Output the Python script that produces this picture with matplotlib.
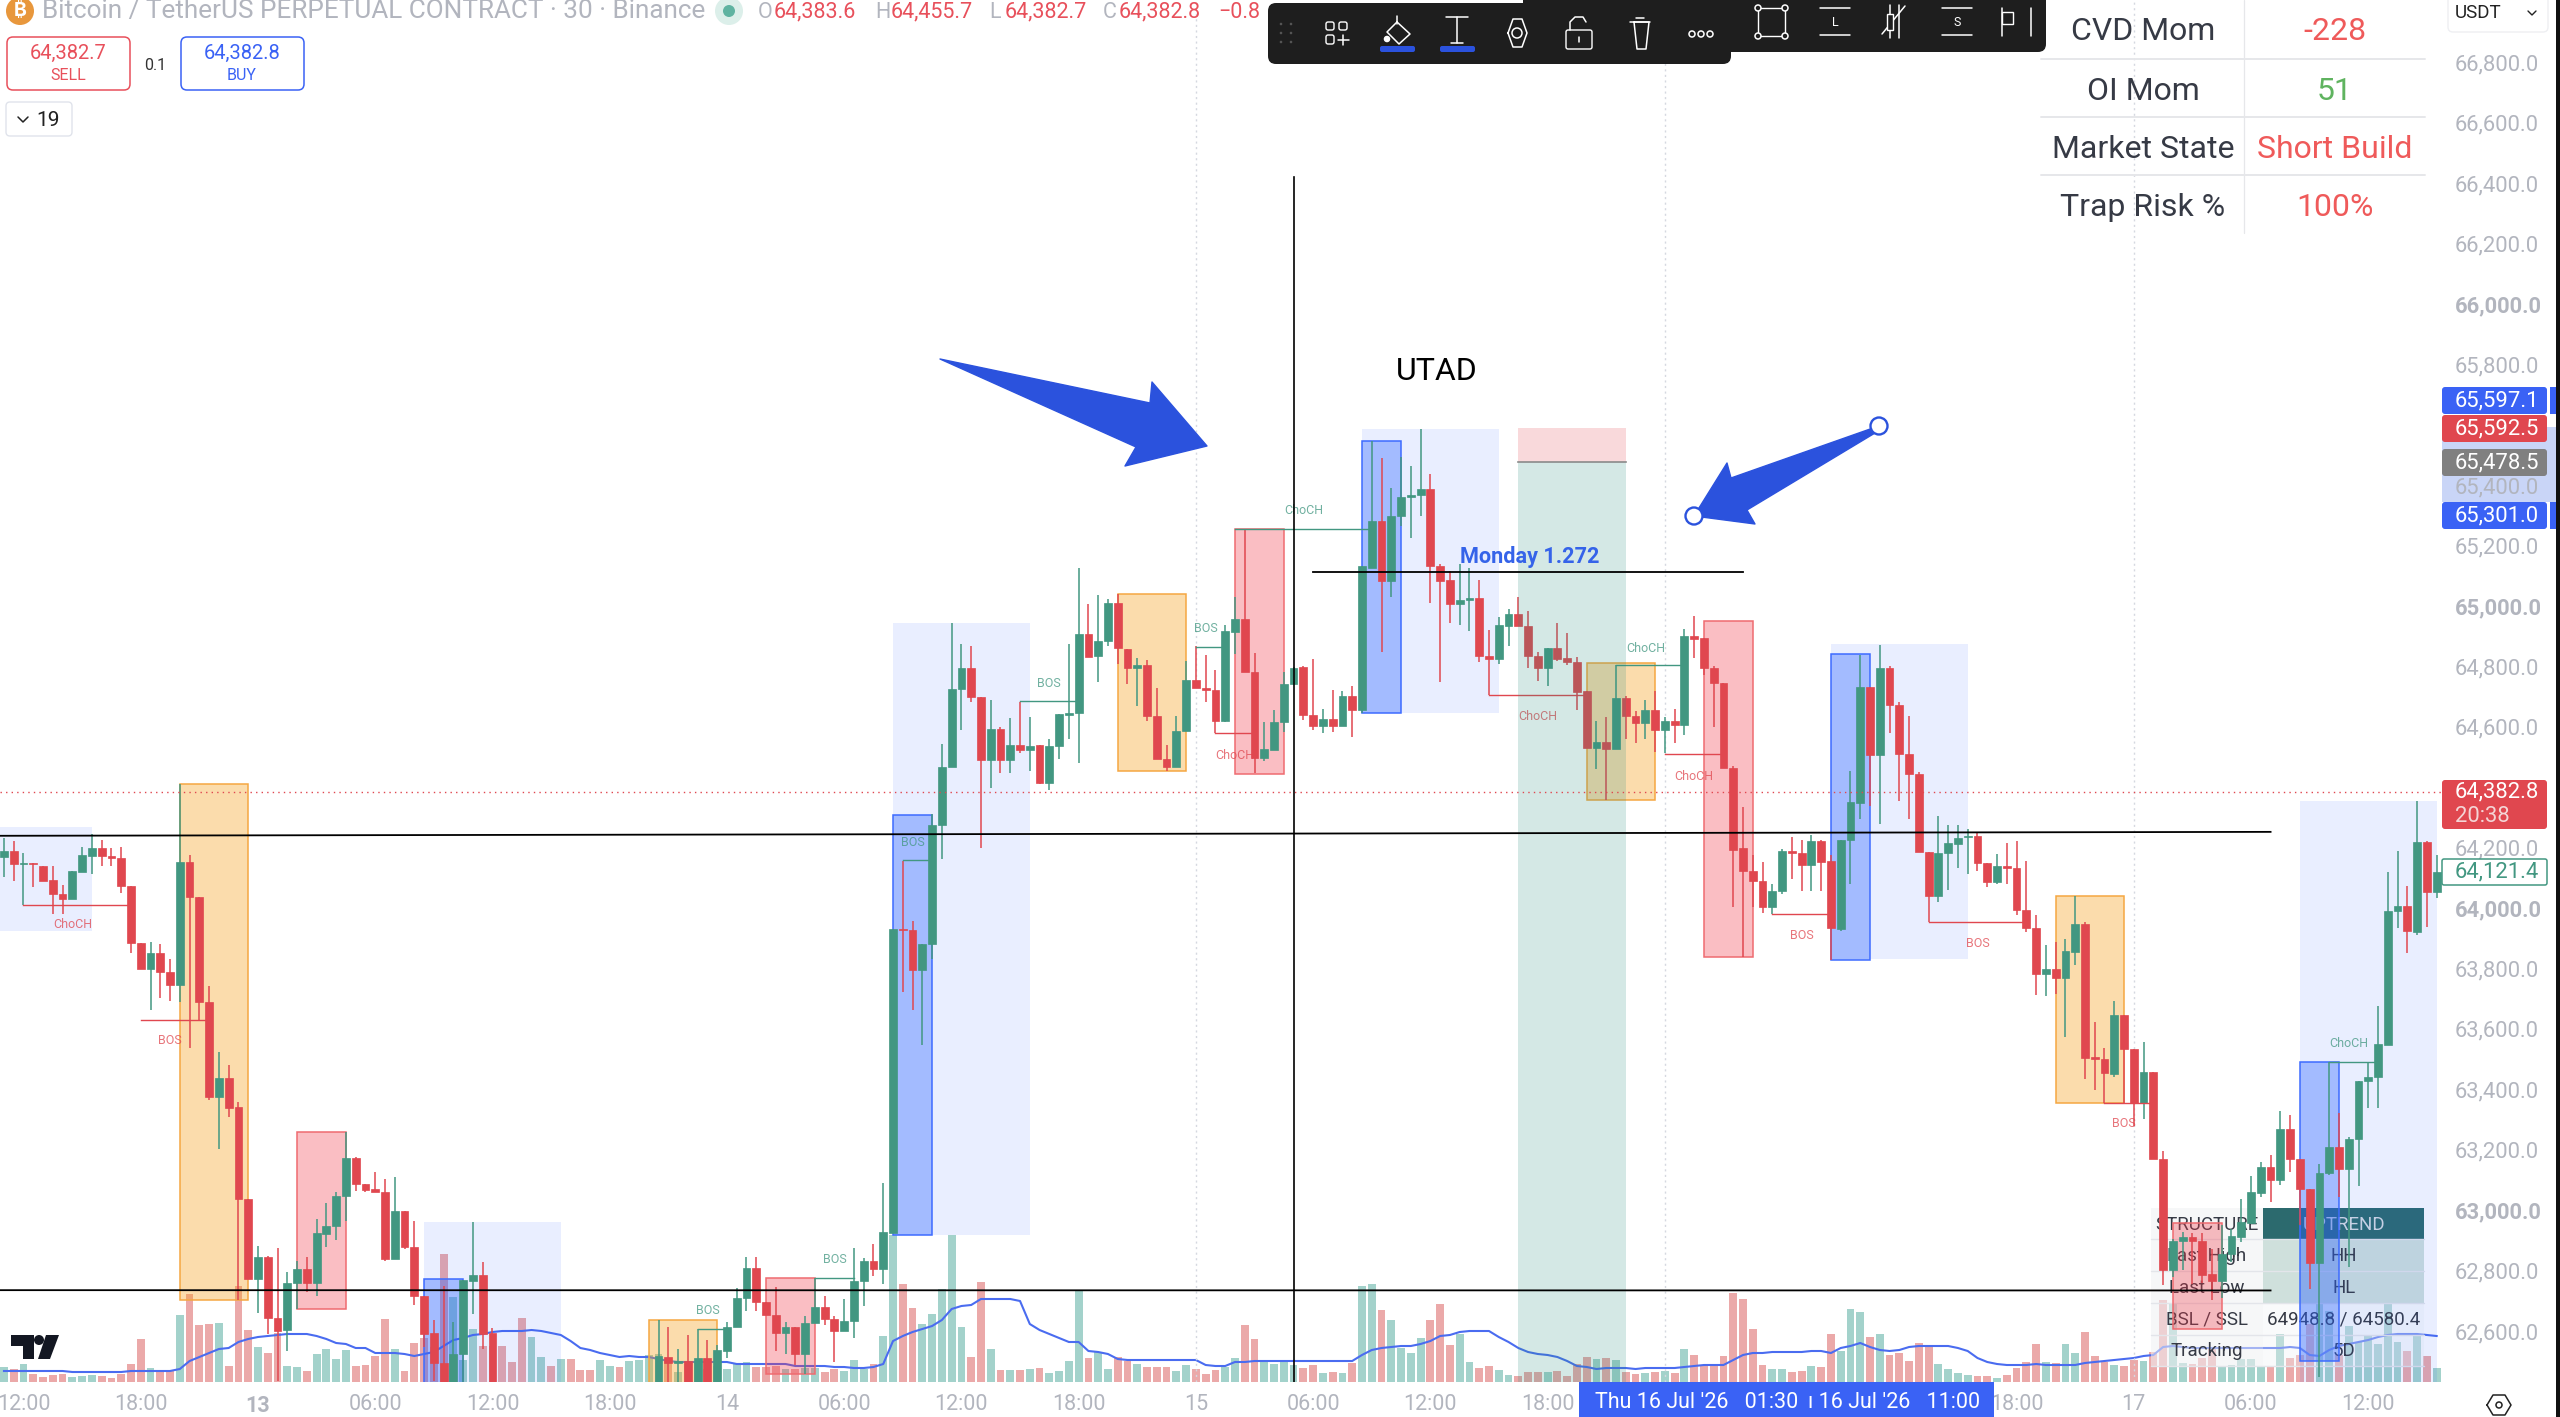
import numpy as np
import matplotlib
matplotlib.use("Agg")
import matplotlib.pyplot as plt
from matplotlib.patches import Rectangle, Circle, Polygon, FancyBboxPatch
from matplotlib.transforms import Affine2D
from matplotlib.colors import to_rgba

plt.rcParams["font.family"] = ["Roboto", "DejaVu Sans"]

# 30 min candles, first one is two bars before 12:00 on the 12th
first_bar = -2
opens = [
    64168, 64189, 64147, 64150, 64140, 64092, 64046, 64030, 64120, 64172,
    64197, 64172, 64165, 64073, 63885, 63798, 63851, 63787, 63745, 64153,
    64038, 63688, 63376, 63436, 63342, 63036, 62773, 62846, 62644, 62602,
    62758, 62806, 62759, 62921, 62949, 63046, 63172, 63086, 63071, 63061,
    62839, 62998, 62878, 62716, 62593, 62495, 62420, 62523, 62766, 62785,
    62593, 62400, 62340, 62300, 62280, 62310, 62330, 62290, 62320, 62300,
    62280, 62270, 62310, 62340, 62320, 62370, 62400, 62432, 62515, 62493,
    62501, 62432, 62512, 62432, 62534, 62614, 62708, 62810, 62697, 62654,
    62593, 62612, 62525, 62627, 62678, 62640, 62599, 62634, 62764, 62830,
    62806, 62923, 63932, 63926, 63796, 63882, 64274, 64466, 64724, 64794,
    64698, 64489, 64594, 64489, 64541, 64524, 64539, 64413, 64535, 64640,
    64646, 64907, 64833, 64883, 65011, 64857, 64794, 64805, 64637, 64494,
    64468, 64587, 64755, 64727, 64721, 64619, 64914, 64958, 64781, 64497,
    64524, 64616, 64741, 64797, 64640, 64602, 64627, 64603, 64701, 64655,
    65127, 65281, 65083, 65298, 65359, 65367, 65386, 65133, 65085, 65005,
    65018, 65027, 64834, 64825, 64935, 64974, 64934, 64834, 64793, 64860,
    64826, 64815, 64717, 64529, 64551, 64526, 64694, 64635, 64611, 64657,
    64588, 64619, 64606, 64902, 64894, 64793, 64746, 64464, 64197, 64123,
    64091, 64002, 64057, 64190, 64183, 64141, 64223, 64154, 63929, 64224,
    64348, 64730, 64505, 64794, 64673, 64510, 64443, 64186, 64040, 64183,
    64212, 64235, 64238, 64148, 64085, 64138, 64131, 63993, 63934, 63783,
    63798, 63769, 63855, 63947, 63507, 63501, 63450, 63646, 63534, 63355,
    63457, 63170, 62801, 62898, 62912, 62898, 62787, 62765, 62855, 62911,
    62958, 63058, 63143, 63100, 63269, 63168, 63069, 62825, 63122, 63210,
    63136, 63234, 63427, 63441, 63548, 63990, 64007, 63921, 64217, 64053,
]
highs = [
    64233, 64222, 64182, 64150, 64140, 64139, 64077, 64122, 64203, 64245,
    64225, 64200, 64203, 64073, 63885, 63889, 63880, 63830, 64411, 64175,
    64038, 63741, 63522, 63480, 63358, 63036, 62880, 62849, 62874, 62795,
    62830, 62844, 62970, 63025, 63059, 63258, 63175, 63086, 63125, 63103,
    63110, 62998, 62964, 62717, 62636, 62748, 62629, 62770, 62959, 62827,
    62611, 62420, 62380, 62330, 62340, 62360, 62350, 62340, 62360, 62330,
    62310, 62330, 62370, 62380, 62390, 62420, 62432, 62636, 62612, 62541,
    62586, 62608, 62571, 62552, 62630, 62741, 62845, 62845, 62697, 62747,
    62630, 62612, 62649, 62775, 62715, 62651, 62706, 62875, 62843, 62889,
    63089, 63932, 64157, 63956, 63882, 64311, 64542, 64944, 64874, 64866,
    64700, 64690, 64598, 64629, 64683, 64631, 64539, 64559, 64642, 64874,
    65125, 65007, 65037, 65024, 65038, 64857, 64826, 64820, 64727, 64539,
    64637, 64816, 64866, 64839, 64787, 64936, 65028, 65256, 64845, 64616,
    64655, 64782, 64798, 64801, 64824, 64660, 64723, 64718, 64734, 65132,
    65546, 65491, 65389, 65492, 65464, 65585, 65435, 65140, 65116, 65140,
    65124, 65087, 64920, 64964, 64991, 65028, 64983, 64848, 64860, 64945,
    64909, 64831, 64717, 64620, 64631, 64804, 64702, 64652, 64688, 64718,
    64633, 64660, 64925, 64968, 64894, 64801, 64746, 64471, 64335, 64174,
    64152, 64079, 64195, 64236, 64226, 64240, 64226, 64174, 64226, 64454,
    64839, 64730, 64871, 64800, 64683, 64637, 64450, 64186, 64304, 64275,
    64275, 64260, 64247, 64148, 64180, 64214, 64221, 64154, 63976, 63878,
    63886, 63898, 64040, 63954, 63622, 63536, 63691, 63646, 63534, 63557,
    63457, 63196, 62906, 62927, 62924, 62924, 62872, 62950, 62936, 63036,
    63113, 63160, 63181, 63329, 63315, 63168, 63069, 63153, 63490, 63320,
    63243, 63427, 63488, 63674, 64119, 64188, 64074, 64354, 64221, 64174,
]
lows = [
    64104, 64088, 64011, 64070, 64091, 63980, 63981, 64030, 64120, 64111,
    64138, 64138, 64048, 63852, 63798, 63663, 63702, 63691, 63688, 63536,
    63627, 63364, 63201, 63307, 62701, 62773, 62659, 62590, 62434, 62532,
    62673, 62729, 62715, 62877, 62900, 62964, 63064, 63061, 63061, 62833,
    62839, 62871, 62687, 62548, 62434, 62400, 62400, 62430, 62655, 62541,
    62350, 62310, 62270, 62240, 62250, 62260, 62230, 62220, 62270, 62250,
    62240, 62250, 62280, 62300, 62290, 62340, 62360, 62400, 62400, 62400,
    62400, 62420, 62400, 62420, 62510, 62614, 62667, 62667, 62654, 62534,
    62523, 62488, 62456, 62627, 62621, 62497, 62599, 62575, 62682, 62782,
    62756, 62923, 63722, 63663, 63548, 63830, 64163, 64466, 64589, 64681,
    64200, 64398, 64448, 64448, 64513, 64452, 64411, 64389, 64494, 64561,
    64481, 64831, 64748, 64866, 64809, 64740, 64668, 64618, 64494, 64455,
    64466, 64587, 64729, 64683, 64578, 64616, 64842, 64780, 64448, 64487,
    64524, 64581, 64741, 64622, 64589, 64580, 64581, 64603, 64567, 64646,
    65124, 64848, 65030, 65266, 65226, 65298, 65008, 64749, 64942, 64936,
    64918, 64815, 64705, 64809, 64867, 64933, 64795, 64752, 64735, 64818,
    64804, 64655, 64529, 64460, 64359, 64526, 64560, 64547, 64558, 64517,
    64512, 64547, 64571, 64826, 64771, 64600, 64463, 64002, 63838, 64002,
    63985, 63979, 64045, 64097, 64057, 64057, 64057, 63829, 63924, 64079,
    64295, 64338, 64278, 64580, 64355, 64295, 64186, 63955, 64019, 64059,
    64131, 64114, 64123, 64071, 64080, 64080, 63976, 63921, 63712, 63709,
    63714, 63574, 63812, 63433, 63398, 63355, 63441, 63355, 63277, 63303,
    63168, 62751, 62777, 62803, 62756, 62760, 62703, 62708, 62829, 62895,
    62955, 63045, 63027, 63083, 63127, 62950, 62739, 62449, 63117, 63044,
    62811, 63079, 63338, 63338, 63548, 63933, 63852, 63912, 63938, 64033,
]
closes = [
    64189, 64147, 64150, 64147, 64091, 64046, 64030, 64121, 64174, 64197,
    64172, 64165, 64073, 63884, 63798, 63851, 63787, 63745, 64153, 64038,
    63688, 63376, 63436, 63339, 63036, 62773, 62846, 62644, 62601, 62759,
    62806, 62759, 62923, 62949, 63046, 63172, 63085, 63068, 63061, 62839,
    62998, 62877, 62716, 62590, 62493, 62420, 62523, 62767, 62785, 62590,
    62400, 62340, 62300, 62280, 62310, 62330, 62290, 62320, 62300, 62280,
    62270, 62310, 62340, 62320, 62370, 62400, 62432, 62516, 62493, 62501,
    62432, 62512, 62432, 62536, 62614, 62710, 62810, 62695, 62654, 62593,
    62612, 62525, 62627, 62678, 62638, 62599, 62634, 62764, 62830, 62806,
    62926, 63932, 63926, 63796, 63882, 64274, 64468, 64724, 64794, 64698,
    64489, 64594, 64489, 64541, 64524, 64535, 64413, 64535, 64642, 64646,
    64907, 64831, 64883, 65011, 64859, 64794, 64803, 64637, 64494, 64468,
    64587, 64755, 64729, 64721, 64619, 64916, 64958, 64780, 64497, 64525,
    64617, 64741, 64796, 64639, 64603, 64627, 64603, 64701, 64656, 65132,
    65281, 65083, 65299, 65360, 65368, 65386, 65133, 65083, 65005, 65019,
    65027, 64834, 64825, 64936, 64974, 64933, 64834, 64793, 64860, 64824,
    64814, 64716, 64529, 64551, 64527, 64694, 64635, 64611, 64657, 64588,
    64619, 64606, 64902, 64891, 64793, 64745, 64463, 64191, 64123, 64091,
    64002, 64057, 64190, 64183, 64141, 64223, 64152, 63933, 64224, 64350,
    64730, 64505, 64794, 64671, 64509, 64442, 64186, 64041, 64183, 64214,
    64233, 64238, 64148, 64085, 64138, 64133, 63993, 63933, 63783, 63798,
    63769, 63859, 63947, 63505, 63501, 63453, 63646, 63533, 63355, 63457,
    63168, 62803, 62898, 62912, 62898, 62786, 62765, 62855, 62913, 62960,
    63060, 63143, 63100, 63269, 63168, 63069, 62825, 63122, 63210, 63136,
    63234, 63427, 63441, 63550, 63990, 64007, 63924, 64217, 64053, 64119,
]
volume = [
    15, 13, 18, 8, 5, 7, 8, 5, 6, 7,
    6, 4, 8, 18, 43, 14, 11, 11, 67, 88,
    57, 58, 59, 16, 96, 52, 35, 29, 49, 16,
    15, 11, 28, 33, 23, 32, 16, 17, 26, 63,
    33, 11, 39, 44, 35, 128, 85, 22, 53, 36,
    36, 36, 20, 64, 45, 25, 16, 23, 23, 12,
    12, 22, 16, 15, 21, 22, 27, 28, 21, 10,
    18, 21, 13, 16, 13, 18, 20, 15, 15, 16,
    13, 13, 14, 14, 10, 13, 11, 22, 13, 18,
    46, 147, 98, 74, 58, 68, 93, 147, 55, 25,
    100, 33, 12, 12, 12, 13, 14, 9, 11, 21,
    92, 24, 30, 13, 25, 21, 18, 15, 15, 15,
    11, 17, 13, 8, 12, 15, 24, 57, 43, 20,
    18, 20, 17, 14, 17, 9, 10, 9, 19, 96,
    98, 72, 62, 34, 29, 44, 62, 78, 37, 48,
    20, 14, 16, 12, 7, 6, 10, 10, 10, 11,
    6, 18, 25, 23, 24, 22, 10, 8, 9, 10,
    11, 9, 33, 27, 16, 16, 26, 89, 83, 53,
    17, 13, 13, 10, 11, 16, 15, 48, 31, 73,
    70, 45, 48, 27, 29, 21, 39, 36, 18, 13,
    9, 7, 6, 6, 4, 7, 14, 20, 38, 20,
    19, 38, 29, 50, 26, 20, 17, 16, 22, 21,
    30, 82, 79, 19, 18, 24, 35, 16, 17, 23,
    23, 15, 15, 48, 24, 27, 58, 92, 71, 27,
    56, 40, 46, 38, 79, 40, 31, 48, 26, 14,
]
volume_ma = [
    11, 11, 11, 11, 11, 11, 11, 10, 10, 10,
    10, 10, 10, 11, 11, 11, 11, 11, 13, 21,
    25, 29, 33, 34, 40, 43, 45, 46, 47, 48,
    48, 48, 46, 43, 39, 38, 34, 34, 29, 29,
    29, 28, 26, 28, 30, 36, 42, 44, 47, 48,
    50, 51, 51, 51, 52, 51, 49, 47, 41, 34,
    32, 29, 27, 25, 26, 25, 25, 23, 21, 20,
    20, 20, 20, 20, 20, 18, 18, 18, 18, 18,
    18, 16, 16, 16, 16, 15, 15, 14, 14, 15,
    18, 41, 46, 50, 53, 56, 62, 73, 76, 77,
    83, 83, 83, 83, 81, 58, 52, 48, 44, 40,
    40, 31, 30, 28, 23, 22, 22, 22, 22, 22,
    22, 22, 22, 17, 16, 16, 20, 20, 21, 21,
    21, 21, 21, 21, 21, 21, 21, 21, 21, 27,
    32, 34, 35, 36, 36, 38, 41, 46, 47, 50,
    51, 51, 51, 45, 40, 34, 30, 28, 27, 25,
    21, 16, 15, 13, 14, 14, 14, 13, 14, 14,
    14, 14, 15, 16, 17, 17, 17, 22, 27, 29,
    29, 30, 30, 30, 30, 31, 31, 29, 34, 36,
    39, 35, 32, 31, 32, 35, 36, 36, 36, 36,
    34, 31, 24, 20, 18, 17, 17, 17, 18, 17,
    17, 17, 17, 19, 20, 21, 22, 23, 24, 26,
    27, 35, 36, 35, 34, 34, 34, 34, 34, 34,
    34, 34, 34, 34, 35, 34, 27, 26, 32, 36,
    38, 40, 42, 45, 47, 48, 48, 48, 47, 46,
]

# boxes from the order block indicator
zone_kind = ["light", "orange", "red", "light", "blue", "orange", "red", "light", "blue",
             "orange", "red", "light", "blue", "orange", "red", "light", "blue",
             "orange", "red", "light", "blue"]
zone_start = [-3, 16, 28, 41, 41, 64, 76, 89, 89, 112, 124, 137, 137, 160, 172, 185, 185, 208, 220, 233, 233]
zone_end = [7, 23, 33, 55, 45, 71, 81, 103, 93, 119, 129, 151, 141, 167, 177, 199, 189, 215, 225, 247, 237]
zone_top = [64268, 64411, 63258, 62960, 62773, 62636, 62775, 64944, 64307, 65038, 65256, 65585, 65546,
            64812, 64951, 64873, 64840, 64040, 62958, 64354, 63491]
zone_bottom = [63925, 62701, 62672, 62400, 62400, 62400, 62456, 62917, 62917, 64455, 64445, 64647, 64647,
               64359, 63838, 63831, 63829, 63355, 62608, 62400, 62501]

# BOS / ChoCH legs
leg_name = ["ChoCH", "BOS", "BOS", "BOS", "BOS", "BOS", "BOS", "ChoCH", "ChoCH", "ChoCH", "ChoCH", "ChoCH",
            "BOS", "BOS", "BOS", "ChoCH"]
leg_side = ["red", "red", "green", "green", "green", "green", "green", "red", "green", "red", "green", "red",
            "red", "red", "red", "green"]
leg_start = [0, 12, 69, 81, 90, 102, 120, 122, 124, 150, 163, 168, 179, 195, 213, 236]
leg_end = [11, 19, 72, 85, 93, 108, 123, 126, 138, 160, 170, 174, 185, 205, 218, 241]
leg_price = [64011, 63630, 62608, 62775, 64159, 64685, 64864, 64578, 65255, 64706, 64803, 64510, 63979,
             63953, 63355, 63491]
leg_text_x = [5, 15, 70, 83, 91, 105, 121, 124, 131, 155, 166, 171, 182, 200, 215, 238]
leg_text_price = [63945, 63561, 62667, 62838, 64217, 64744, 64925, 64505, 65315, 64633, 64860, 64436, 63909,
                  63883, 63286, 63550]

price_ticks = np.arange(62600, 66801, 200)
time_tick_bars = [0, 12, 24, 36, 48, 60, 72, 84, 96, 108, 120, 132, 144, 156, 204, 216, 228, 240]
time_tick_text = ["12:00", "18:00", "13", "06:00", "12:00", "18:00", "14", "06:00", "12:00", "18:00",
                  "15", "06:00", "12:00", "18:00", "18:00", "17", "06:00", "12:00"]
day_lines = [120, 168, 216]

last_price = 64382.8
tp_price = 65589.5
entry_price = 65475

GREEN = "#429781"
RED = "#e0474f"
BLUE = "#2b52dd"
GRAY = "#b2b5be"
INK = "#363a45"

W, H = 2560, 1417
PANE_W, PANE_H = 2448, 1382

fig = plt.figure(figsize=(W / 100, H / 100), dpi=100, facecolor="white")
pane = [0, (H - PANE_H) / H, PANE_W / W, PANE_H / H]
ax_vol = fig.add_axes(pane)
ax = fig.add_axes(pane)
ax_vol.set_zorder(1)
ax.set_zorder(2)
ax.patch.set_visible(False)
ax_vol.set_axis_off()

x_lim = (-2.405, 248.16)
y_lim = (62431, 67005.6)
ax.set_xlim(*x_lim)
ax.set_ylim(*y_lim)
ax_vol.set_xlim(*x_lim)
ax_vol.set_ylim(0, PANE_H)

# screen pixels for the tradingview chrome, y going down
px = Affine2D().scale(1, -1).translate(0, H)


def say(x, y, s, size, color=INK, ha="center", **kw):
    kw.setdefault("zorder", 12)
    return ax.text(x, y, s, fontsize=size, color=color, ha=ha, va="center", transform=px, clip_on=False, **kw)


def box(x0, y0, x1, y1, fc, ec="none", lw=0, r=0, z=10):
    style = "round,pad=0,rounding_size=%s" % r if r else "square,pad=0"
    p = FancyBboxPatch((x0, y0), x1 - x0, y1 - y0, boxstyle=style, fc=fc, ec=ec, lw=lw,
                       transform=px, clip_on=False, zorder=z)
    ax.add_patch(p)
    return p


def stroke(xs, ys, color="white", lw=1.1, z=14):
    ax.plot(xs, ys, color=color, lw=lw, transform=px, clip_on=False, zorder=z, solid_capstyle="round")


def ring(x, y, r, fc="none", ec="white", lw=1.1, z=14):
    ax.add_patch(Circle((x, y), r, fc=fc, ec=ec, lw=lw, transform=px, clip_on=False, zorder=z))


bars = np.arange(first_bar, first_bar + len(closes))
o = np.array(opens, dtype=float)
c = np.array(closes, dtype=float)
up = c >= o
colors = [GREEN if u else RED for u in up]

# volume pane
ax_vol.bar(bars, volume, width=0.8, color=["#a3d2cb" if u else "#eba9a9" for u in up], zorder=1)
ax_vol.plot(bars, volume_ma, color="#4a6cf0", lw=1.5, zorder=2)

for x in day_lines:
    ax.axvline(x, color="#d5d8e0", lw=1.0, ls=(0, (1.5, 2.5)), zorder=0.5)

# table sitting under the candles
table_rows = [("STRUCTURE", "UPTREND"), ("Last High", "HH"), ("Last Low", "HL"),
              ("BSL / SSL", "64948.8 / 64580.4"), ("Tracking", "5D")]
table_y = [1208, 1239, 1271, 1303, 1335, 1366]
for i, (left, right) in enumerate(table_rows):
    y0, y1 = table_y[i], table_y[i + 1]
    box(2151, y0, 2263, y1, to_rgba("#f0f1f4", 0.55), z=1.2)
    if i == 0:
        box(2263, y0, 2424, y1, "#2c6a6e", z=1.2)
    elif i < 3:
        box(2263, y0, 2424, y1, "#cfe0dc", z=1.2)
    else:
        box(2263, y0, 2424, y1, to_rgba("#f0f1f4", 0.35), z=1.2)
    stroke([2151, 2424], [y1, y1], "#e3e5ea", 1.0, 1.3)
    say(2207, (y0 + y1) / 2 + 1, left, 13.5, INK, zorder=1.5)
    say(2344, (y0 + y1) / 2 + 1, right, 13.5, "#d8dde2" if i == 0 else INK, zorder=1.5)

# order blocks
zone_fill = {"light": to_rgba("#2962ff", 0.1), "blue": to_rgba("#2962ff", 0.36),
             "orange": to_rgba("#f59f1a", 0.36), "red": to_rgba("#f23645", 0.32)}
zone_edge = {"light": "none", "blue": "#3d6bff", "orange": "#f5a742", "red": "#ef6b70"}
for k, x0, x1, top, bot in zip(zone_kind, zone_start, zone_end, zone_top, zone_bottom):
    ax.add_patch(Rectangle((x0, bot), x1 - x0, top - bot, fc=zone_fill[k], ec=zone_edge[k],
                           lw=1.1, zorder=2))

# candles
ax.vlines(bars, lows, highs, colors=colors, lw=1.1, zorder=3)
ax.bar(bars, np.abs(c - o), bottom=np.minimum(o, c), width=0.8, color=colors, edgecolor=colors,
       linewidth=0.5, zorder=3)

# structure legs
for name, side, x0, x1, p, tx, tp in zip(leg_name, leg_side, leg_start, leg_end, leg_price, leg_text_x,
                                         leg_text_price):
    col = GREEN if side == "green" else RED
    ax.plot([x0, x1], [p, p], color=col, lw=1.0, zorder=4)
    ax.text(tx, tp, name, color=col, alpha=0.75, fontsize=9, ha="center", va="center", zorder=4)

# long position tool lies over the candles
ax.add_patch(Rectangle((153, entry_price), 11, tp_price - entry_price, fc=to_rgba("#e2434c", 0.2), ec="none",
                       zorder=5))
ax.add_patch(Rectangle((153, y_lim[0]), 11, entry_price - y_lim[0], fc=to_rgba("#2a8f7f", 0.2), ec="none",
                       zorder=5))
ax.plot([153, 164], [entry_price, entry_price], color="#8a8a8a", lw=1.2, zorder=5)

# hand drawn lines
ax.plot([-3, 230], [64239, 64252], color="black", lw=1.3, zorder=6)
ax.plot([-3, 230], [62735, 62734], color="black", lw=1.3, zorder=6)
ax.plot([132, 176], [65113, 65113], color="black", lw=1.3, zorder=6)
ax.plot([130, 130], [y_lim[0], 66420], color="black", lw=1.2, zorder=6)
ax.axhline(last_price, color=RED, lw=1.0, ls=(0, (1, 3)), zorder=6)
ax.text(147, 65162, "Monday 1.272", color="#3563e9", fontsize=15.6, fontweight="bold", ha="left", va="center",
        zorder=7)
ax.text(140.5, 65777, "UTAD", color="black", fontsize=23, ha="left", va="center", zorder=7)

# arrows
ax.add_patch(Polygon([(940, 359), (1150, 403), (1152, 382), (1207, 446), (1125, 466), (1136, 447)],
                     fc=BLUE, ec=BLUE, lw=1, joinstyle="round", transform=px, clip_on=False, zorder=8))
ax.add_patch(Polygon([(1873, 428), (1731, 478), (1727, 463), (1694, 516), (1755, 524), (1747, 510), (1875, 433)],
                     fc=BLUE, ec=BLUE, lw=1, joinstyle="round", transform=px, clip_on=False, zorder=8))
ring(1879, 426, 8.5, "white", BLUE, 1.7, 9)
ring(1694, 516, 8.5, "white", BLUE, 1.7, 9)

# axes
for s in ax.spines.values():
    s.set_visible(False)
ax.yaxis.tick_right()
ax.set_axisbelow(False)
ax.tick_params(axis="both", length=0)
ax.tick_params(axis="y", pad=5, labelsize=15.8, labelcolor=GRAY)
ax.tick_params(axis="x", pad=9, labelsize=15.5, labelcolor=GRAY)
ax.set_yticks(price_ticks)
ax.set_yticklabels([format(int(p), ",") + ".0" for p in price_ticks])
for t, p in zip(ax.get_yticklabels(), price_ticks):
    if p % 1000 == 0:
        t.set_fontweight("bold")
ax.set_xticks(time_tick_bars)
ax.set_xticklabels(time_tick_text)
for t in ax.get_xticklabels():
    if t.get_text() == "13":
        t.set_fontweight("bold")

# time axis crosshair labels
box(1579, 1382, 1994, H, "#3a62f5")
say(1595, 1402, "Thu 16 Jul '26   01:30", 15.5, "white", ha="left")
say(1808, 1402, "ı 16 Jul '26   11:00", 15.5, "white", ha="left")

# price tags
box(2442, 427, 2556, 502, "#c9d5f7", z=1)
tag_text = ["65,597.1", "65,592.5", "65,478.5", "65,301.0"]
tag_color = ["#3a62f5", RED, "#808080", "#3a62f5"]
tag_y = [387, 415, 449, 502]
for s, col, y in zip(tag_text, tag_color, tag_y):
    box(2442, y, 2547, y + 27, col, r=3)
    say(2455, y + 13.5, s, 15.8, "white", ha="left")
for y in [387, 502]:
    box(2550, y, 2556, y + 27, "#3a62f5")
box(2442, 780, 2547, 829, RED, r=3)
say(2455, 792, "64,382.8", 15.8, "white", ha="left")
say(2455, 816, "20:38", 15.8, "#f4d5d6", ha="left")
box(2442, 859, 2547, 885, "white", ec=GREEN, lw=1.1, r=2)
say(2455, 872, "64,121.4", 15.8, GREEN, ha="left")
box(2556, 0, W, H, "#111111")

# header
ring(20, 11, 14, "#e8973c", "none", 0, 12)
say(20, 11, "₿", 14, "white", fontweight="bold", family=["Inter", "Noto Sans", "Open Sans", "Lato", "DejaVu Sans"])
say(42, 11, "Bitcoin / TetherUS PERPETUAL CONTRACT · 30 · Binance", 18.8, GRAY, ha="left")
ring(729, 11, 14, "#dcefea", "none", 0, 12)
ring(729, 11, 6, "#5fb3a1", "none", 0, 13)
ohlc_x = [758, 875, 989, 1103]
ohlc_tag = ["O", "H", "L", "C"]
ohlc_val = ["64,383.6", "64,455.7", "64,382.7", "64,382.8"]
for x, a, v in zip(ohlc_x, ohlc_tag, ohlc_val):
    say(x, 12, a, 15.5, GRAY, ha="left")
    say(x + 16, 12, v, 15.5, "#e8505b", ha="left")
say(1218, 12, "−0.8", 15.5, "#e8505b", ha="left")

box(7, 37, 130, 90, "white", ec="#e8505b", lw=1.1, r=6)
say(68, 53, "64,382.7", 14.5, "#e8505b")
say(68, 76, "SELL", 11.5, "#e8505b")
say(155, 65, "0.1", 11.5, "#333333")
box(181, 37, 304, 90, "white", ec="#3a62f5", lw=1.1, r=6)
say(242, 53, "64,382.8", 14.5, "#3a62f5")
say(242, 76, "BUY", 11.5, "#3a62f5")
box(6, 102, 72, 136, "white", ec="#e0e3eb", lw=1, r=4)
stroke([18, 23, 28], [117, 122, 117], "#222222", 1.1)
say(48, 120, "19", 15, "#222222")

# indicator table, top right
stat_name = ["CVD Mom", "OI Mom", "Market State", "Trap Risk %"]
stat_value = ["-228", "51", "Short Build", "100%"]
stat_color = ["#ef5a5a", "#5fb35f", "#ef5a5a", "#ef5a5a"]
stat_y = [32, 91, 149, 207]
for name, value, col, y in zip(stat_name, stat_value, stat_color, stat_y):
    say(2143, y, name, 23, INK)
    say(2335, y, value, 23, col)
for y in [59, 117, 175]:
    stroke([2041, 2425], [y, y], "#e6e7ea", 1.4, 11)
stroke([2244, 2244], [0, 233], "#e6e7ea", 0.9, 11)
box(2448, -8, 2548, 32, "white", ec="#eeeff2", lw=1, r=5)
say(2455, 13, "USDT", 13.5, "#222222", ha="left")
stroke([2528, 2532, 2536], [11, 15, 11], "#222222", 1.0)

# drawing toolbars
box(1523, -8, 2046, 52, "#1e1e1e", r=8, z=13)
box(1268, 3, 1731, 64, "#1e1e1e", r=8, z=13)
for dx in [1281, 1291]:
    for dy in [24, 33, 42]:
        ring(dx, dy, 1.3, "#555555", "none", 0, 14)
box(1380, 46, 1415, 52, BLUE, r=2, z=14)
box(1440, 46, 1475, 52, BLUE, r=2, z=14)
# group icon
box(1326, 22, 1334, 30, "none", "white", 1.0, 2, 14)
box(1339, 22, 1347, 30, "none", "white", 1.0, 2, 14)
box(1326, 35, 1334, 44, "none", "white", 1.0, 2, 14)
stroke([1338, 1349], [40, 40])
stroke([1343, 1343], [35, 45])
# bucket
stroke([1397, 1410, 1399, 1387, 1397], [22, 34, 44, 32, 22])
stroke([1397, 1397], [16, 24])
ring(1387, 39, 2.5, "white", "white")
# text tool
stroke([1446, 1468], [17, 17])
stroke([1457, 1457], [17, 43])
stroke([1451, 1463], [43, 43])
# hexagon
stroke([1508, 1513, 1522, 1527, 1522, 1513, 1508], [33, 19, 19, 33, 47, 47, 33])
ring(1517, 33, 5)
# lock
box(1566, 30, 1592, 49, "none", "white", 1.0, 2, 14)
stroke([1570, 1570, 1575, 1583, 1586], [30, 22, 17, 17, 22])
stroke([1579, 1579], [37, 42])
# trash
stroke([1630, 1650], [22, 22])
stroke([1634, 1637, 1646, 1649, 1634], [22, 49, 49, 22, 22])
stroke([1636, 1644], [18, 18])
# dots
for x in [1692, 1701, 1710]:
    ring(x, 34, 3)
# second bar
box(1758, 8, 1785, 36, "none", "white", 1.0, 0, 14)
for x, y in [(1758, 8), (1785, 8), (1758, 36), (1785, 36)]:
    ring(x, y, 3, "#1e1e1e")
stroke([1820, 1850], [8, 8])
stroke([1820, 1850], [35, 35])
say(1835, 22, "L", 9, "white", zorder=14)
stroke([1882, 1905], [34, 6])
stroke([1890, 1890], [5, 38])
stroke([1899, 1899], [5, 38])
box(1887, 14, 1893, 30, "#1e1e1e", "white", 1.0, 0, 14)
stroke([1942, 1972], [8, 8])
stroke([1942, 1972], [35, 35])
say(1957, 22, "S", 9, "white", zorder=14)
stroke([2002, 2002], [8, 36])
box(2002, 12, 2013, 24, "#1e1e1e", "white", 1.0, 0, 14)
stroke([2031, 2031], [8, 36])

# tv logo and settings
ax.add_patch(Polygon([(11, 1335), (34, 1335), (34, 1359), (23, 1359), (23, 1346), (11, 1346)], fc="#131722",
                     transform=px, clip_on=False, zorder=9))
ring(39, 1340, 5, "#131722", "none", 0, 9)
ax.add_patch(Polygon([(46, 1335), (59, 1335), (50, 1359), (38, 1359)], fc="#131722",
                     transform=px, clip_on=False, zorder=9))
stroke([2487, 2493, 2505, 2511, 2505, 2493, 2487], [1405, 1395, 1395, 1405, 1415, 1415, 1405], "#222222", 1.1)
ring(2499, 1405, 3, "none", "#222222", 1.1)

ax.set_xlim(*x_lim)
ax.set_ylim(*y_lim)

fig.savefig("out.png", dpi=100, facecolor="white")
